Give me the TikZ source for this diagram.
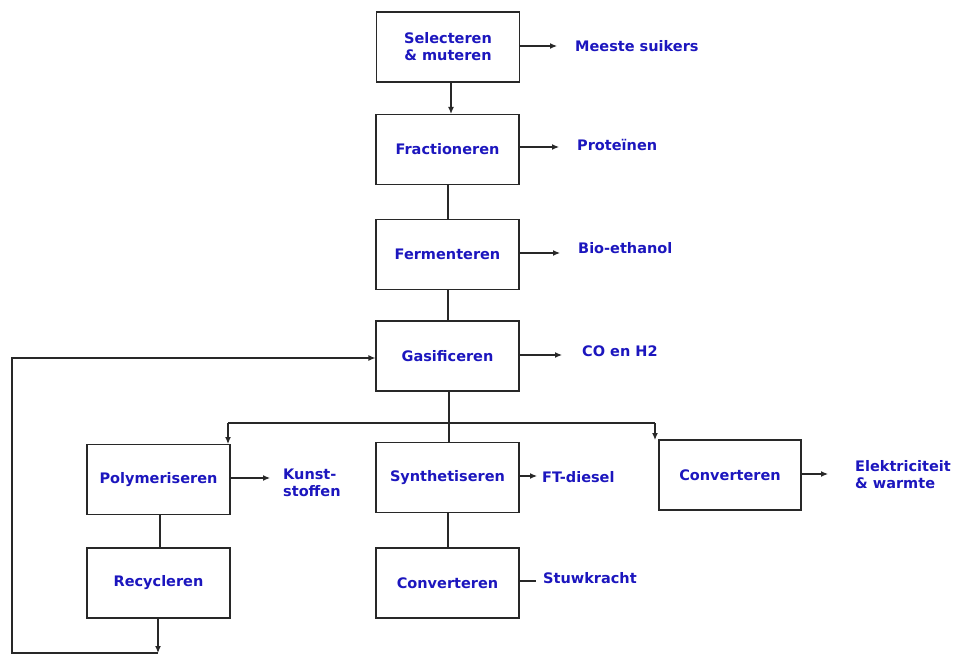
\documentclass[tikz,border=0pt]{standalone}
\usepackage{fontspec}
\setmainfont{DejaVu Sans}
\usetikzlibrary{arrows.meta}
\definecolor{txtblue}{RGB}{28,22,190}
\definecolor{linegray}{RGB}{40,40,40}
\begin{document}
\begin{tikzpicture}[x=1pt,y=-1pt,
  box/.style={draw=linegray,line width=1.2pt,minimum width=143pt,minimum height=70pt,inner sep=0pt,
    font=\fontsize{14.5}{17}\selectfont\bfseries,text=txtblue,align=center},
  lab/.style={font=\fontsize{14.5}{17}\selectfont\bfseries,text=txtblue,align=left,anchor=west,inner sep=0pt},
  conn/.style={draw=linegray,line width=1.2pt},
  arr/.style={conn,-{Latex[length=7pt,width=6pt]}}]
\useasboundingbox (0,0) rectangle (953,655);
\fill[white] (0,0) rectangle (953,655);
% boxes
\node[box] (sel) at (448,47) {Selecteren\\\& muteren};
\node[box] (fra) at (447.5,149.5) {Fractioneren};
\node[box] (fer) at (447.5,254.5) {Fermenteren};
\node[box] (gas) at (447.5,356) {Gasificeren};
\node[box] (pol) at (158.5,479.5) {Polymeriseren};
\node[box] (syn) at (447.5,477.5) {Synthetiseren};
\node[box,minimum width=142pt] (conR) at (730,475) {Converteren};
\node[box] (rec) at (158.5,583) {Recycleren};
\node[box] (conB) at (447.5,583) {Converteren};
% labels
\node[lab] (l1) at (575,46) {Meeste suikers};
\node[lab] (l2) at (577,145) {Proteïnen};
\node[lab] (l3) at (578,248) {Bio-ethanol};
\node[lab] (l4) at (582,351) {CO en H2};
\node[lab] (l5) at (283,483) {Kunst-\\stoffen};
\node[lab] (l6) at (542,477) {FT-diesel};
\node[lab] (l7) at (855,475) {Elektriciteit\\\& warmte};
\node[lab] (l8) at (543,578) {Stuwkracht};
% coordinates
\coordinate (a1) at (557,46);
\coordinate (a2) at (559,147);
\coordinate (a3) at (560,253);
\coordinate (a4) at (562,355);
\coordinate (a5) at (270,478);
\coordinate (a6) at (537,476);
\coordinate (a7) at (828,474);
\coordinate (a8) at (536,581);
\coordinate (jl) at (228,423);
\coordinate (jr) at (655,423);
\coordinate (pt) at (228,444);
\coordinate (ct) at (655,440);
\coordinate (rb) at (158,653);
\coordinate (lb) at (12,653);
\coordinate (lt) at (12,358);
% vertical chain
\draw[arr] (sel.south -| 451,0) -- (fra.north -| 451,0);
\draw[conn] (fra.south -| 448,0) -- (fer.north -| 448,0);
\draw[conn] (fer.south -| 448,0) -- (gas.north -| 448,0);
\draw[conn] (gas.south -| 449,0) -- (syn.north -| 449,0);
\draw[conn] (jl) -- (jr);
\draw[arr] (jl) -- (pt);
\draw[arr] (jr) -- (ct);
\draw[conn] (syn.south -| 448,0) -- (conB.north -| 448,0);
\draw[conn] (pol.south -| 160,0) -- (rec.north -| 160,0);
\draw[arr] (rec.south -| 158,0) -- (rb);
\draw[arr] (rb) -- (lb) -- (lt) -- (gas.west |- lt);
% side outputs
\draw[arr] (sel.east |- a1) -- (a1);
\draw[arr] (fra.east |- a2) -- (a2);
\draw[arr] (fer.east |- a3) -- (a3);
\draw[arr] (gas.east |- a4) -- (a4);
\draw[arr] (pol.east |- a5) -- (a5);
\draw[arr] (syn.east |- a6) -- (a6);
\draw[arr] (conR.east |- a7) -- (a7);
\draw[conn] (conB.east |- a8) -- (a8);
\end{tikzpicture}
\end{document}
